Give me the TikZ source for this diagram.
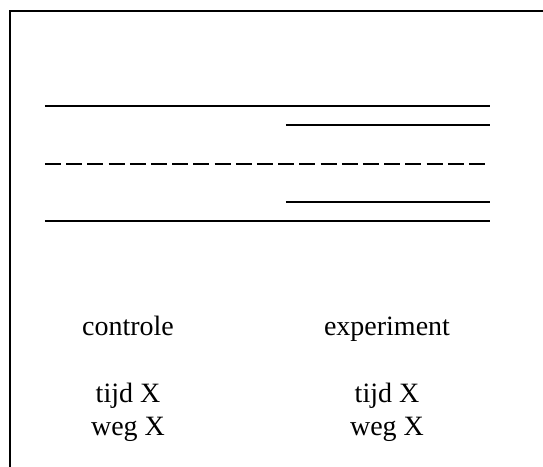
\documentclass[tikz,border=0pt]{standalone}
\usepackage{fontspec}
\setmainfont{Liberation Serif}
\usepackage{tikz}
\usetikzlibrary{positioning}
\tikzset{
    rule/.style={
        line width=0.9pt
    },
    dashrule/.style={
        line width=0.9pt,
        dash pattern=on 8pt off 2.6pt
    },
    lab/.style={
        font=\fontsize{14}{16.5}\selectfont,
        align=center,
        inner sep=0pt,
        anchor=base
    }
}

\begin{document}
\begin{tikzpicture}[x=0.5pt,y=-0.5pt]
\clip (0,0) rectangle (543,467);
% frame, runs off the page on the right and at the bottom
\draw[rule] (10,480) -- (10,11) -- (560,11);
% the stack of lines
\draw[rule] (45,106) -- (490,106);
\draw[rule] (286,125) -- (490,125);
\draw[dashrule] (45,164) -- (490,164);
\draw[rule] (286,202) -- (490,202);
\draw[rule] (45,221) -- (490,221);
% group labels (base of a two-line node is its last line)
\node[lab] (ctrl) at (128,335) {controle};
\node[lab] (expt) at (387,335) {experiment};
\node[lab] (ctrlv) at (128,435) {tijd X\\weg X};
\node[lab] (exptv) at (387,435) {tijd X\\weg X};
\end{tikzpicture}
\end{document}
